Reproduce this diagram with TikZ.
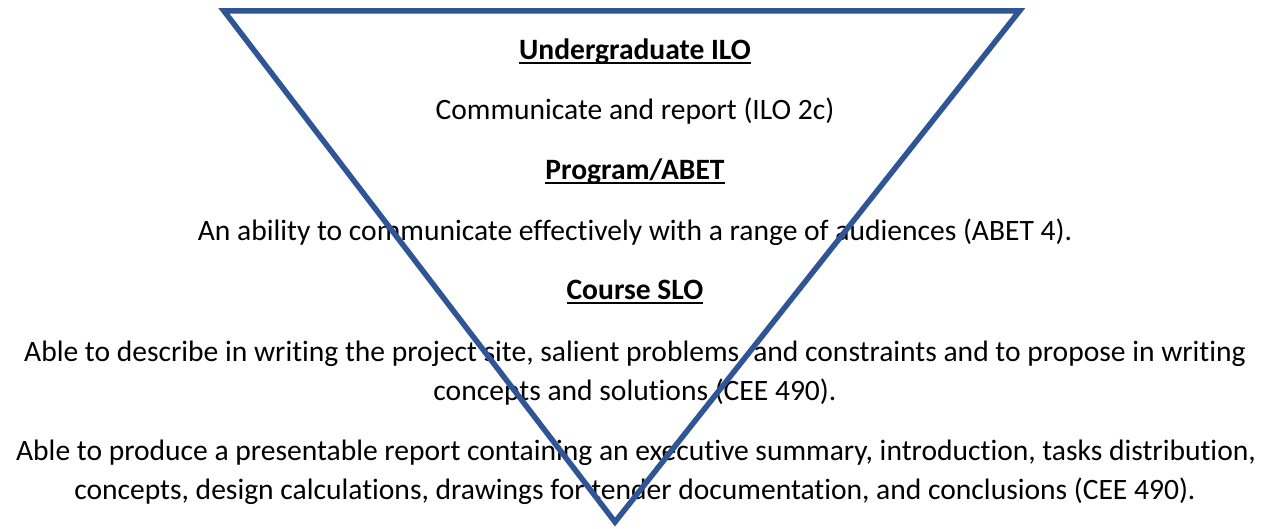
\documentclass[tikz,border=0pt]{standalone}
\usepackage{fontspec}
\setmainfont[Ligatures=NoCommon]{Carlito}
\definecolor{tribl}{HTML}{2F5597}
% bold heading with a Word-style underline that crosses descenders
\newcommand\headul[1]{\setbox0\hbox{\bfseries #1}\rlap{\rule[-3.8pt]{\wd0}{1.8pt}}\box0}
\begin{document}
\begin{tikzpicture}[x=1pt,y=-1pt,
  txt/.style={anchor=base,inner sep=0pt,font=\fontsize{29.55}{36}\selectfont,text=black},
  tri/.style={draw=tribl,line width=5.5pt,line join=miter,miter limit=10}]
\useasboundingbox (0,0) rectangle (1266,529);
\fill[white] (0,0) rectangle (1266,529);
\node[txt] (h1) at (635,60) {\headul{Undergraduate ILO}};
\node[txt] (t1) at (635,120) {Communicate and report (ILO 2c)};
\node[txt] (h2) at (635,180) {\headul{Program/ABET}};
\node[txt] (t2) at (635,241) {An ability to communicate effectively with a range of audiences (ABET 4).};
\node[txt] (h3) at (635,300) {\headul{Course SLO}};
\node[txt] (t3a) at (635,361) {Able to describe in writing the project site, salient problems, and constraints and to propose in writing};
\node[txt] (t3b) at (635,400) {concepts and solutions (CEE 490).};
\node[txt] (t4a) at (636,460) {Able to produce a presentable report containing an executive summary, introduction, tasks distribution,};
\node[txt] (t4b) at (635,499) {concepts, design calculations, drawings for tender documentation, and conclusions (CEE 490).};
% inverted triangle drawn over the text
\coordinate (tl) at (224,11);
\coordinate (tr) at (1019.5,11);
\coordinate (ap) at (615,522);
\draw[tri] (tl) -- (tr) -- (ap) -- cycle;
\end{tikzpicture}
\end{document}
